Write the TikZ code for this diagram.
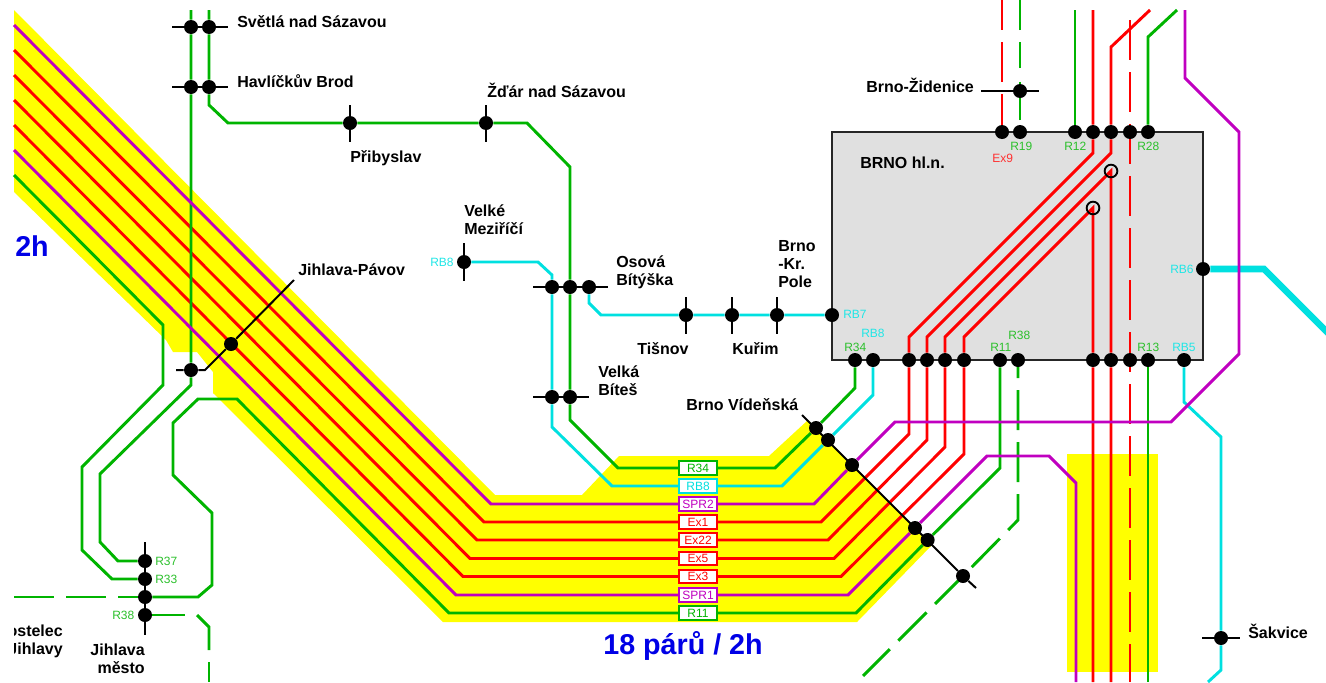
\documentclass[tikz,border=0pt]{standalone}
\usepackage{fontspec}
\setmainfont{Liberation Sans}
\definecolor{railgreen}{HTML}{00B400}
\definecolor{railred}{HTML}{FF0000}
\definecolor{railpurple}{HTML}{C000C0}
\definecolor{railcyan}{HTML}{00E0E0}
\definecolor{railyellow}{HTML}{FFFF00}
\definecolor{railblue}{HTML}{0000E6}
\definecolor{labgreen}{HTML}{2CC02C}
\definecolor{labcyan}{HTML}{20E6E6}
\definecolor{labred}{HTML}{FF3030}
\pgfdeclarelayer{under}
\pgfdeclarelayer{rails}
\pgfsetlayers{under,rails,main}
\tikzset{
	stn/.style={circle,fill=black,inner sep=0,minimum size=10.5pt},
	ring/.style={circle,draw=black,line width=1.4pt,inner sep=0,minimum size=9.5pt},
	tickline/.style={line width=1.5pt,black},
	rail/.style={line width=2.2pt,#1,line join=miter},
	place/.style={font=\bfseries\fontsize{12}{13.5}\selectfont,anchor=west,inner sep=0,align=left,text=black},
	tinylab/.style={font=\fontsize{9}{10}\selectfont,anchor=west,inner sep=0,text=#1},
	tag/.style={draw=#1,text=#1,fill=white,line width=1.4pt,inner sep=0,minimum width=28pt,minimum height=10pt,font=\fontsize{9}{10}\selectfont},
	pairs/.style={font=\bfseries\fontsize{21.5}{23}\selectfont,text=railblue,inner sep=0}
}
\begin{document}
\begin{tikzpicture}[x=0.75pt,y=-0.75pt]
	\useasboundingbox (0,0) rectangle (1326,682);
	\clip (14,10) rectangle (1326,682);
	%%%%% STATIONS %%%%%
	\foreach \n/\x/\y in {sva/191/27,svb/209/27,hba/191/87,hbb/209/87,pri/350/123,zda/486/123,
		jpa/231/344,jpb/191/370,jma/145/561,jmb/145/579,jmc/145/597,jmd/145/615,
		vme/464/262,osa/552/287,osb/570/287,osc/589/287,vba/552/397,vbb/570/397,
		tis/686/315,kur/732/315,kpo/777/315,rbs/832/315,rbx/1203/269,zid/1020/91,
		ta/1002/132,tb/1020/132,tc/1075/132,td/1093/132,te/1111/132,tf/1130/132,tg/1148/132,
		ba/855/360,bb/873/360,bc/909/360,bd/927/360,be/945/360,bf/964/360,bg/1000/360,bh/1018/360,
		bi/1093/360,bj/1111/360,bk/1130/360,bl/1148/360,bm/1184/360,
		via/816/428,vib/828/440,vic/852/465,vid/915/528,vie/927.6/540,vif/963/576,sak/1221/638}
		\node[stn] (\n) at (\x,\y) {};
	\node[ring] (rga) at (1111,171) {};
	\node[ring] (rgb) at (1093,208) {};
	%%%%% TAGS %%%%%
	\node[tag=railgreen] (tr34) at (698,468) {R34};
	\node[tag=railcyan] (trb8) at (698,486) {RB8};
	\node[tag=railpurple] (tspb) at (698,504) {SPR2};
	\node[tag=railred] (tex1) at (698,522) {Ex1};
	\node[tag=railred] (tex22) at (698,540) {Ex22};
	\node[tag=railred] (tex5) at (698,558.5) {Ex5};
	\node[tag=railred] (tex3) at (698,576.5) {Ex3};
	\node[tag=railpurple] (tspa) at (698,595) {SPR1};
	\node[tag=railgreen] (tr11) at (698,613) {R11};
	%%%%% BACKGROUND %%%%%
	\begin{pgfonlayer}{under}
		\fill[railyellow] (14,10) -- (495,495) -- (582,495) -- (619,456) -- (769,456) -- (808,420)
			-- (932,545) -- (857,622) -- (443,622) -- (213,393) -- (213,372) -- (197,352)
			-- (173,352) -- (166,340) -- (14,192) -- cycle;
		\fill[railyellow] (1067,454) rectangle (1158,672);
		\node[draw=black!85,fill=black!12,line width=1.5pt,inner sep=0,minimum width=278.25pt,minimum height=171pt] (brno) at (1017.5,246) {};
	\end{pgfonlayer}
	%%%%% LINES %%%%%
	\begin{pgfonlayer}{rails}
		% red
		\draw[rail=railred] (14,50) -- (484,522) -- (tex1) -- (821,522) -- (909,434) -- (bc) -- (909,337) -- (1093,153) -- (td) -- (1093,10);
		\draw[rail=railred] (14,75) -- (477,540) -- (tex22) -- (828,540) -- (927,440) -- (bd) -- (927,337) -- (1111,153) -- (te) -- (1111,47) -- (1150,10);
		\draw[rail=railred] (14,100) -- (470,558.5) -- (tex5) -- (834,558.5) -- (945,447) -- (be) -- (945,337) -- (rga.center) -- (bj) -- (1111,682);
		\draw[rail=railred] (14,125) -- (463,576.5) -- (tex3) -- (841,576.5) -- (964,454) -- (bf) -- (964,337) -- (rgb.center) -- (bi) -- (1093,682);
		\draw[rail=railred,dash pattern=on 30pt off 9pt] (1130,20) -- (1130,682);
		\draw[rail=railred,dash pattern=on 30pt off 9pt] (1002,-10) -- (ta.center);
		% green
		\draw[rail=railgreen] (14,175) -- (163,325) -- (163,385) -- (82,467) -- (82,550) -- (112,579) -- (jmb);
		\draw[rail=railgreen] (191,10) -- (sva) -- (hba) -- (jpb) -- (191,385) -- (100,474) -- (100,542) -- (118,561) -- (jma);
		\draw[rail=railgreen] (bg) -- (1000,468) -- (vie) -- (856,613) -- (tr11) -- (449,613) -- (237,399) -- (198,399) -- (173,423) -- (173,475) -- (212,513) -- (212,585) -- (198,597) -- (jmc);
		\draw[rail=railgreen] (ba) -- (855,388) -- (via) -- (775,468) -- (tr34) -- (618,468) -- (570,420) -- (vbb) -- (osb) -- (570,167) -- (527,123) -- (zda) -- (pri) -- (228,123) -- (209,105) -- (hbb) -- (svb) -- (209,10);
		\draw[rail=railgreen,dash pattern=on 30pt off 9pt] (14,597) -- (jmc.center);
		\draw[rail=railgreen] (jmd) -- (185,615);
		\draw[rail=railgreen] (197,615) -- (209,627) -- (209,650);
		\draw[rail=railgreen] (209,662) -- (209,682);
		\draw[rail=railgreen,dash pattern=on 30pt off 9pt,dash phase=16.5pt] (bh.center) -- (1018,520) -- (vif.center) -- (863,676);
		\draw[rail=railgreen,dash pattern=on 28.5pt off 10.5pt on 19.5pt off 9pt on 30pt off 9pt] (1020,120) -- (zid.center) -- (1020,-10);
		\draw[rail=railgreen] (tc) -- (1075,10);
		\draw[rail=railgreen] (tg) -- (1148,37) -- (1177,10);
		\draw[rail=railgreen] (bl) -- (1148,682);
		% cyan
		\draw[rail=railcyan] (vme) -- (538,262) -- (552,275) -- (osa) -- (vba) -- (552,427) -- (612,486) -- (trb8) -- (782,486) -- (vib) -- (873,395) -- (bb);
		\draw[rail=railcyan] (osc) -- (589,303) -- (601,315) -- (tis) -- (kur) -- (kpo) -- (rbs);
		\draw[rail=railcyan] (bm) -- (1184,402) -- (1221,437) -- (sak) -- (1221,670) -- (1208,682);
		\draw[railcyan,line width=5pt] (rbx) -- (1264,269) -- (1330,335);
		% purple
		\draw[rail=railpurple] (14,25) -- (491,504) -- (tspb) -- (814,504) -- (vic) -- (895,422) -- (1171,422) -- (1239,354) -- (1239,132) -- (1185,78) -- (1185,10);
		\draw[rail=railpurple] (14,150) -- (456,595) -- (tspa) -- (848,595) -- (vid) -- (987,456) -- (1049,456) -- (1076,483) -- (1076,682);
	\end{pgfonlayer}
	%%%%% TICKS %%%%%
	\draw[tickline] (sva) ++(-19,0) -- ++(56,0);
	\draw[tickline] (hba) ++(-19,0) -- ++(56,0);
	\draw[tickline] (pri) ++(0,-18) -- ++(0,37);
	\draw[tickline] (zda) ++(0,-18) -- ++(0,37);
	\draw[tickline] (vme) ++(0,-19) -- ++(0,38);
	\draw[tickline] (osa) ++(-19,0) -- ++(75,0);
	\draw[tickline] (vba) ++(-19,0) -- ++(56,0);
	\draw[tickline] (tis) ++(0,-18) -- ++(0,37);
	\draw[tickline] (kur) ++(0,-18) -- ++(0,37);
	\draw[tickline] (kpo) ++(0,-18) -- ++(0,37);
	\draw[tickline] (zid) ++(-39,0) -- ++(58,0);
	\draw[tickline] (sak) ++(-19,0) -- ++(38,0);
	\draw[tickline] (jma) ++(0,-19) -- (jmd) -- ++(0,20);
	\draw[tickline] (jpa) ++(63,-64) -- (jpa) -- (205,370) -- (jpb) -- ++(-15,0);
	\draw[tickline] (via) ++(-14,-13) -- (vif) -- ++(13,12);
	%%%%% TEXT %%%%%
	\node[place] (lsv) at (237,22) {Světlá nad Sázavou};
	\node[place] (lhb) at (237,81) {Havlíčkův Brod};
	\node[place] (lpr) at (350,158) {Přibyslav};
	\node[place] (lzd) at (487,90) {Žďár nad Sázavou};
	\node[place] (ljp) at (298,270) {Jihlava-Pávov};
	\node[place] (lvm) at (464,220) {Velké\\Meziříčí};
	\node[place] (los) at (616,272) {Osová\\Bítýška};
	\node[place] (lti) at (637,349) {Tišnov};
	\node[place] (lku) at (732,349) {Kuřim};
	\node[place] (lkp) at (778,264) {Brno\\-Kr.\\Pole};
	\node[place] (lvb) at (598,381) {Velká\\Bíteš};
	\node[place] (lvi) at (686,405) {Brno Vídeňská};
	\node[place] (lzi) at (866,85) {Brno-Židenice};
	\node[place] (lbr) at (860,163) {BRNO hl.n.};
	\node[place] (lsa) at (1248,631) {Šakvice};
	\node[place,anchor=east,align=right] (ljm) at (145,659) {Jihlava\\město};
	\node[place,anchor=east,align=right] (lko) at (63,641) {Kostelec\\u Jihlavy};
	\node[tinylab=labgreen] (a1) at (155,561) {R37};
	\node[tinylab=labgreen] (a2) at (155,579) {R33};
	\node[tinylab=labgreen] (a3) at (112,615) {R38};
	\node[tinylab=labcyan] (a4) at (430,262) {RB8};
	\node[tinylab=labcyan] (a5) at (843,314) {RB7};
	\node[tinylab=labcyan] (a6) at (861,333) {RB8};
	\node[tinylab=labgreen] (a7) at (844,347) {R34};
	\node[tinylab=labgreen] (a8) at (990,347) {R11};
	\node[tinylab=labgreen] (a9) at (1008,335) {R38};
	\node[tinylab=labgreen] (a10) at (1137,347) {R13};
	\node[tinylab=labcyan] (a11) at (1172,347) {RB5};
	\node[tinylab=labgreen] (a12) at (1064,146) {R12};
	\node[tinylab=labgreen] (a13) at (1010,146) {R19};
	\node[tinylab=labgreen] (a14) at (1137,146) {R28};
	\node[tinylab=labred] (a15) at (992,158) {Ex9};
	\node[tinylab=labcyan] (a16) at (1170,269) {RB6};
	\node[pairs,anchor=west] (lh) at (15,246) {2h};
	\node[pairs] (lpa) at (683,646) {18 párů / 2h};
\end{tikzpicture}
\end{document}
